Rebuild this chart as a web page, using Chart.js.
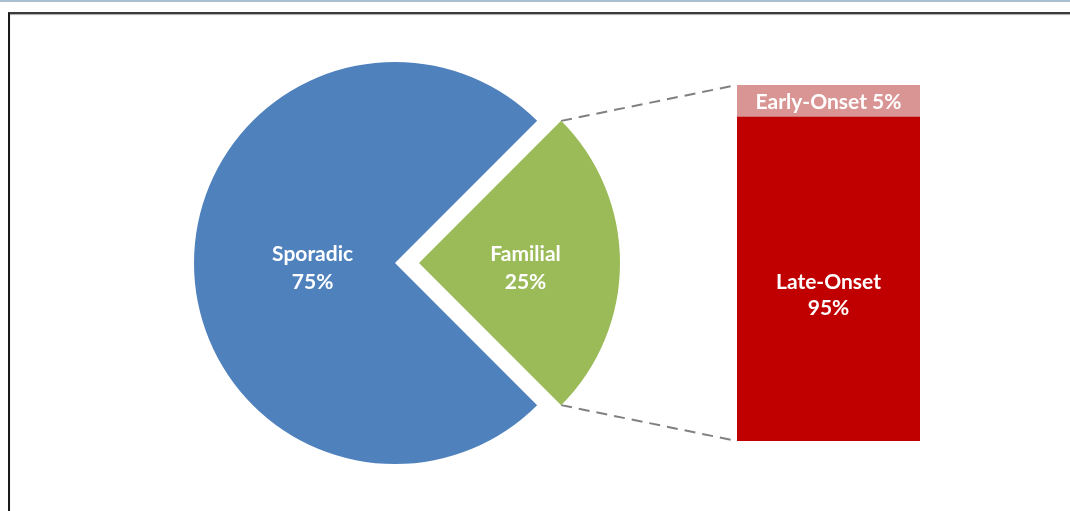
<!DOCTYPE html>
<html>
<head>
<meta charset="utf-8">
<script src="https://cdn.jsdelivr.net/npm/chart.js@4/dist/chart.umd.min.js"></script>
<style>
body { margin: 0; width: 1070px; height: 511px; overflow: hidden; background: #fff; position: relative; }
#topLine { position: absolute; left: 0; top: 0; width: 1070px; height: 2px; background: #a9bfcf; }
#frame { position: absolute; left: 8px; top: 12px; width: 1100px; height: 520px; border-top: 2px solid #3a3a3a; border-left: 2px solid #1a1a1a; box-shadow: inset 0 1px 1px #aaa; }
#pieBox { position: absolute; left: 165px; top: 33px; width: 460px; height: 460px; }
#barBox { position: absolute; left: 737px; top: 85px; width: 183px; height: 356px; }
#links { position: absolute; left: 0; top: 0; }
</style>
</head>
<body>
<div id="topLine"></div>
<div id="frame"></div>
<canvas id="links" width="1070" height="511"></canvas>
<div id="pieBox"><canvas id="pieChart"></canvas></div>
<div id="barBox"><canvas id="barChart"></canvas></div>
<script>
// pie: share of cases
const pieLabels = ['Familial', 'Sporadic'];
const pieValues = [25, 75];
const pieColors = ['#9bbb59', '#4f81bd'];

// bar: split of the familial slice (heights as drawn, text as printed)
const onsetLabels = ['Late-Onset', 'Early-Onset'];
const onsetValues = [91, 9];
const onsetText = ['95%', '5%'];
const onsetColors = ['#c00000', '#d99594'];

const labelFont = 'bold 21px Lato, "Open Sans", sans-serif';

// how far chart.js actually slides an arc out for a given offset
function slideOf(arc) {
    const off = arc.options.offset || 0;
    const circ = arc.endAngle - arc.startAngle;
    return off / 4 * (2 - Math.sin(Math.min(Math.PI, circ)));
}

const sliceText = {
    id: 'sliceText',
    afterDatasetsDraw(chart, args, opts) {
        const ctx = chart.ctx;
        const meta = chart.getDatasetMeta(0);
        ctx.save();
        ctx.fillStyle = '#fff';
        ctx.font = labelFont;
        ctx.textAlign = 'center';
        ctx.textBaseline = 'middle';
        meta.data.forEach((arc, i) => {
            const mid = (arc.startAngle + arc.endAngle) / 2;
            const r = slideOf(arc) + arc.outerRadius * opts.at[i];
            const x = arc.x + Math.cos(mid) * r;
            const y = arc.y + Math.sin(mid) * r + 5;
            ctx.fillText(pieLabels[i], x, y - 14);
            ctx.fillText(pieValues[i] + '%', x, y + 14);
        });
        ctx.restore();
    }
};

const barText = {
    id: 'barText',
    afterDatasetsDraw(chart) {
        const ctx = chart.ctx;
        ctx.save();
        ctx.fillStyle = '#fff';
        ctx.font = labelFont;
        ctx.textAlign = 'center';
        ctx.textBaseline = 'middle';
        const late = chart.getDatasetMeta(0).data[0];
        const early = chart.getDatasetMeta(1).data[0];
        let cy = (late.y + late.base) / 2 + 16;
        ctx.fillText(onsetLabels[0], late.x, cy - 13);
        ctx.fillText(onsetText[0], late.x, cy + 13);
        cy = (early.y + early.base) / 2 + 1;
        ctx.fillText(onsetLabels[1] + ' ' + onsetText[1], early.x, cy);
        ctx.restore();
    }
};

const pieChart = new Chart(document.getElementById('pieChart'), {
    type: 'pie',
    data: {
        labels: pieLabels,
        datasets: [{
            data: pieValues,
            backgroundColor: pieColors,
            borderWidth: 0,
            offset: [96, 0]
        }]
    },
    options: {
        responsive: true,
        maintainAspectRatio: false,
        animation: false,
        events: [],
        rotation: 45,
        radius: 201,
        layout: { padding: 0 },
        plugins: {
            legend: { display: false },
            tooltip: { enabled: false },
            sliceText: { at: [0.53, 0.41] }
        }
    },
    plugins: [sliceText]
});

const barChart = new Chart(document.getElementById('barChart'), {
    type: 'bar',
    data: {
        labels: ['Familial'],
        datasets: onsetLabels.map((name, i) => ({
            label: name,
            data: [onsetValues[i]],
            backgroundColor: onsetColors[i],
            borderWidth: 0,
            barPercentage: 1,
            categoryPercentage: 1
        }))
    },
    options: {
        responsive: true,
        maintainAspectRatio: false,
        animation: false,
        events: [],
        layout: { padding: 0 },
        scales: {
            x: { stacked: true, display: false },
            y: { stacked: true, display: false, min: 0, max: 100 }
        },
        plugins: {
            legend: { display: false },
            tooltip: { enabled: false }
        }
    },
    plugins: [barText]
});

function drawLinks() {
    const ctx = document.getElementById('links').getContext('2d');
    const pieBox = pieChart.canvas.getBoundingClientRect();
    const barBox = barChart.canvas.getBoundingClientRect();
    const arc = pieChart.getDatasetMeta(0).data[0];
    const mid = (arc.startAngle + arc.endAngle) / 2;
    const s = slideOf(arc);
    const cx = pieBox.left + arc.x + Math.cos(mid) * s;
    const cy = pieBox.top + arc.y + Math.sin(mid) * s;
    const late = barChart.getDatasetMeta(0).data[0];
    const early = barChart.getDatasetMeta(1).data[0];
    const bx = barBox.left + late.x - late.width / 2;
    ctx.clearRect(0, 0, 1070, 511);
    ctx.strokeStyle = '#808080';
    ctx.lineWidth = 2;
    ctx.setLineDash([11, 7]);
    ctx.beginPath();
    ctx.moveTo(cx + Math.cos(arc.startAngle) * arc.outerRadius, cy + Math.sin(arc.startAngle) * arc.outerRadius);
    ctx.lineTo(bx, barBox.top + early.y);
    ctx.moveTo(cx + Math.cos(arc.endAngle) * arc.outerRadius, cy + Math.sin(arc.endAngle) * arc.outerRadius);
    ctx.lineTo(bx, barBox.top + late.base);
    ctx.stroke();
}
drawLinks();
setTimeout(drawLinks, 50);
</script>
</body>
</html>
